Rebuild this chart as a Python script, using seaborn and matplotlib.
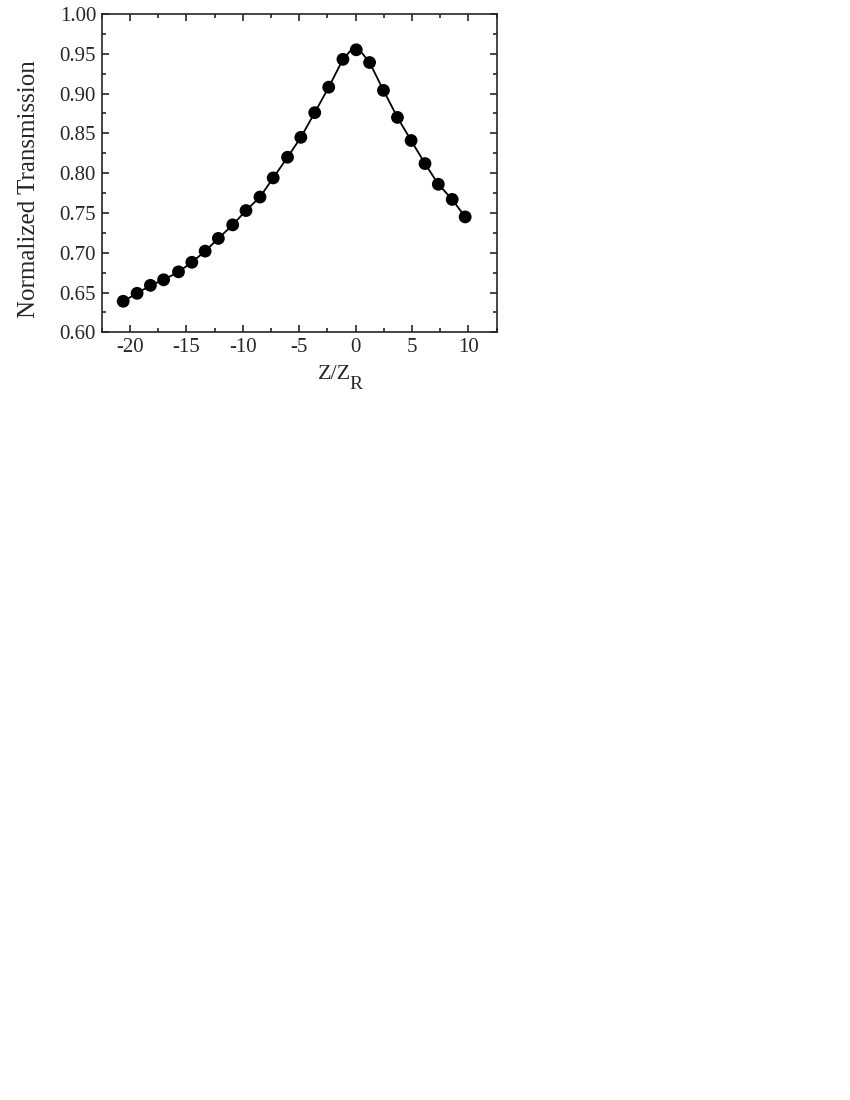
import numpy as np
import matplotlib
matplotlib.use("Agg")
import matplotlib.pyplot as plt
from matplotlib.ticker import MultipleLocator
import seaborn as sns

# measured points (z/zR, normalized transmission)
z_pts = [-20.59, -19.36, -18.18, -17.01, -15.69, -14.51, -13.33, -12.16, -10.89,
         -9.71, -8.47, -7.30, -6.03, -4.85, -3.62, -2.38, -1.12, 0.06,
         1.24, 2.47, 3.71, 4.92, 6.15, 7.33, 8.56, 9.71]
t_pts = [0.639, 0.649, 0.659, 0.666, 0.676, 0.688, 0.702, 0.718, 0.735,
         0.753, 0.770, 0.794, 0.820, 0.845, 0.876, 0.908, 0.943, 0.955,
         0.939, 0.904, 0.870, 0.841, 0.812, 0.786, 0.767, 0.745]

# fitted curve (passes through the points, cusp at z = 0)
z_fit = [-20.59, -19.36, -18.18, -17.01, -15.69, -14.51, -13.33, -12.16, -10.89,
         -9.71, -8.47, -7.30, -6.03, -4.85, -3.62, -2.38, -1.12, 0.0,
         1.24, 2.47, 3.71, 4.92, 6.15, 7.33, 8.56, 9.71]
t_fit = [0.639, 0.649, 0.659, 0.666, 0.676, 0.688, 0.702, 0.718, 0.735,
         0.753, 0.770, 0.794, 0.820, 0.845, 0.876, 0.908, 0.943, 0.961,
         0.939, 0.904, 0.870, 0.841, 0.812, 0.786, 0.767, 0.745]

sns.set_style("ticks")
plt.rcParams['font.family'] = ['Liberation Serif', 'DejaVu Serif']

fig = plt.figure(figsize=(8.5, 11), dpi=100)
ax = fig.add_axes([0.1196, 0.6979, 0.4647, 0.2894])

sns.lineplot(x=z_fit, y=t_fit, ax=ax, color='black', linewidth=1.3, sort=False)
sns.scatterplot(x=z_pts, y=t_pts, ax=ax, color='black', s=85, edgecolor='none', zorder=3)

ax.set_xlim(-22.5, 12.5)
ax.set_ylim(0.60, 1.00)
ax.xaxis.set_major_locator(MultipleLocator(5))
ax.xaxis.set_minor_locator(MultipleLocator(2.5))
ax.yaxis.set_major_locator(MultipleLocator(0.05))
ax.yaxis.set_minor_locator(MultipleLocator(0.025))
ax.yaxis.set_major_formatter(plt.FormatStrFormatter('%.2f'))
ax.xaxis.set_major_formatter(plt.FuncFormatter(lambda v, p: '%d' % v))

ax.tick_params(which='both', direction='in', top=True, right=True, width=1.2, labelsize=15, pad=4)
ax.tick_params(which='major', length=5)
ax.tick_params(which='minor', length=3)
for sp in ax.spines.values():
    sp.set_linewidth(1.2)
    sp.set_visible(True)

# axis titles (Origin style, big subscript)
ax.text(0.5476, -0.1467, 'Z/Z', transform=ax.transAxes, fontsize=16,
        ha='left', va='baseline')
ax.text(0.627, -0.178, 'R', transform=ax.transAxes, fontsize=14,
        ha='left', va='baseline')
ax.text(-0.184, 0.45, 'Normalized Transmission', transform=ax.transAxes,
        fontsize=18, rotation=90, ha='center', va='center')

fig.savefig('out.png', dpi=100)
